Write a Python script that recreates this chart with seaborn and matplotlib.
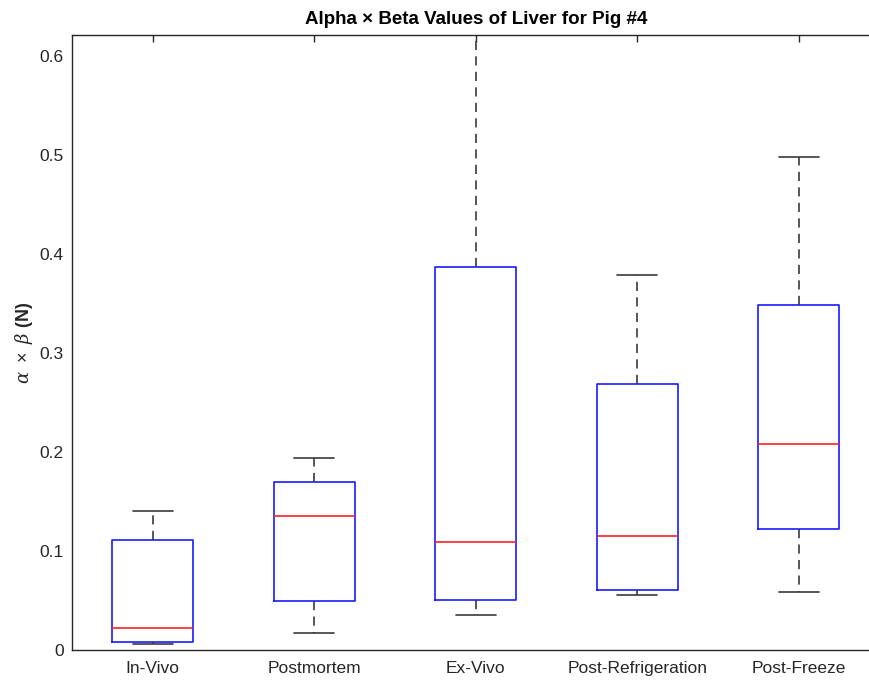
import numpy as np
import pandas as pd
import matplotlib
matplotlib.use("Agg")
import matplotlib.pyplot as plt
import seaborn as sns

categories = ["In-Vivo", "Postmortem", "Ex-Vivo", "Post-Refrigeration", "Post-Freeze"]
# five-number summaries per group: min, Q1, median, Q3, max
in_vivo = [0.0058, 0.0078, 0.0219, 0.1110, 0.1400]
postmortem = [0.0169, 0.0492, 0.1357, 0.1700, 0.1935]
ex_vivo = [0.0354, 0.0505, 0.1094, 0.3870, 0.6210]
post_refrigeration = [0.0556, 0.0606, 0.1152, 0.2687, 0.3790]
post_freeze = [0.0589, 0.1219, 0.2080, 0.3485, 0.4983]
yticks = [0, 0.1, 0.2, 0.3, 0.4, 0.5, 0.6]
ytick_labels = ["0", "0.1", "0.2", "0.3", "0.4", "0.5", "0.6"]

series = [in_vivo, postmortem, ex_vivo, post_refrigeration, post_freeze]
df = pd.DataFrame({
    "group": np.repeat(categories, [len(s) for s in series]),
    "value": np.concatenate(series),
})

sns.set_style("white")
plt.rcParams["font.family"] = ["Liberation Sans", "DejaVu Sans"]
plt.rcParams["mathtext.fontset"] = "custom"
plt.rcParams["mathtext.rm"] = "Liberation Sans"
plt.rcParams["mathtext.it"] = "DejaVu Serif:italic"
plt.rcParams["mathtext.bf"] = "Liberation Sans:bold"

fig = plt.figure(figsize=(8.7, 6.81), dpi=100)
ax = fig.add_axes([0.0828, 0.0455, 0.9282, 0.903])

axc = "#262626"
sns.boxplot(
    data=df, x="group", y="value", order=categories, ax=ax,
    whis=np.inf, width=0.5, fill=False, color="blue",
    boxprops=dict(color="#1a1aff", linewidth=1.2),
    whiskerprops=dict(color="#3a3a3a", linewidth=1.2, linestyle=(0, (5.5, 3.8))),
    capprops=dict(color="#3a3a3a", linewidth=1.2),
    medianprops=dict(color="#ff2020", linewidth=1.2),
    capwidths=0.25,
)

ax.set_xlim(-0.5, 4.5)
ax.set_ylim(0, 0.621)
ax.set_yticks(yticks)
ax.set_yticklabels(ytick_labels)
ax.tick_params(axis="both", direction="in", length=5, width=1.0, colors=axc,
               labelsize=12.5, top=True, right=True, pad=6)
ax.tick_params(axis="x", pad=8)
for sp in ax.spines.values():
    sp.set_color(axc)
    sp.set_linewidth(1.0)
    sp.set_visible(True)
ax.set_xlabel("")
ax.set_ylabel(r"$\alpha\ \times\ \beta$ $\mathbf{(N)}$", fontsize=13, color=axc, labelpad=3)
ax.set_title("Alpha \u00d7 Beta Values of Liver for Pig #4", fontsize=13.5,
             fontweight="bold", color="black", pad=8)

fig.savefig("out.png", dpi=100)
